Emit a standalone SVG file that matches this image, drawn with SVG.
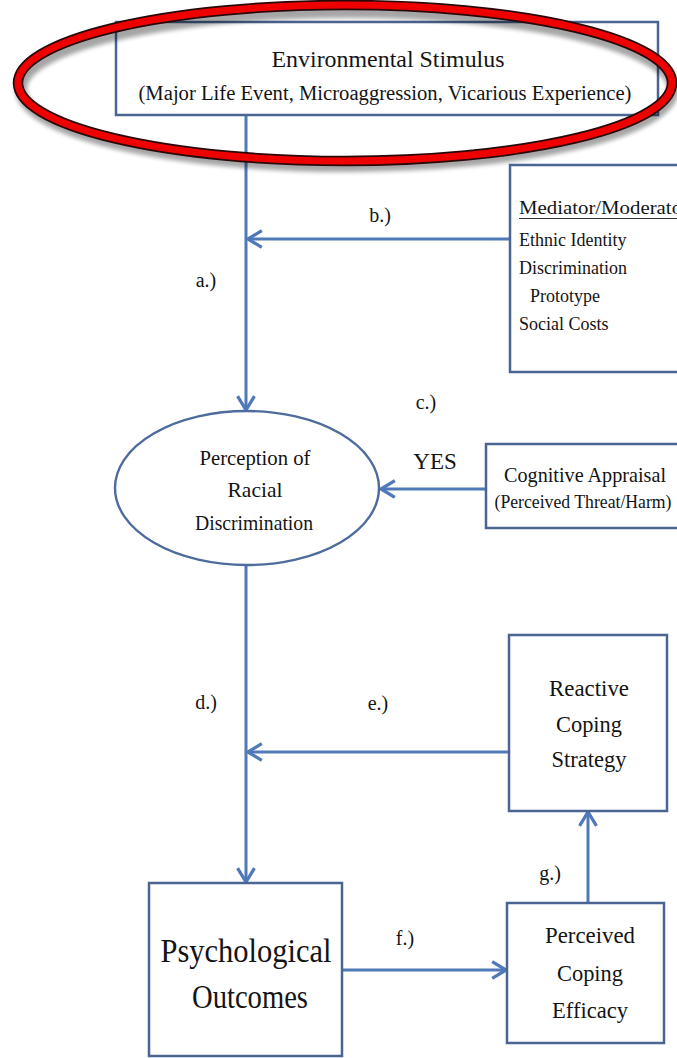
<svg xmlns="http://www.w3.org/2000/svg" width="677" height="1058" viewBox="0 0 677 1058" font-family="'Liberation Serif', 'DejaVu Serif', 'Noto Serif', serif">
  <defs>
    <style>
      .box { fill: #ffffff; stroke: #4a6591; stroke-width: 2.5; }
      .oval { fill: #ffffff; stroke: #4d6c9c; stroke-width: 2.4; }
      .link { fill: none; stroke: #5079b8; stroke-width: 3; }
      .t { font-family: 'Liberation Serif', 'DejaVu Serif', 'Noto Serif', serif; fill: #141414; }
      .mid { text-anchor: middle; }
    </style>
    <marker id="open" viewBox="0 0 12 12" refX="10.5" refY="6" markerWidth="6.5" markerHeight="6.5" orient="auto" markerUnits="strokeWidth">
      <polyline points="2,0.8 10.5,6 2,11.2" fill="none" stroke="#5079b8" stroke-width="2"/>
    </marker>
    <filter id="soft" x="-10%" y="-30%" width="120%" height="160%">
      <feGaussianBlur stdDeviation="2"/>
    </filter>
  </defs>
  <rect width="677" height="1058" fill="#ffffff"/>

  <!-- connectors -->
  <g id="connectors">
    <line class="link" x1="246" y1="116" x2="246" y2="410" marker-end="url(#open)"/>
    <line class="link" x1="510" y1="239" x2="248" y2="239" marker-end="url(#open)"/>
    <line class="link" x1="486" y1="489" x2="381" y2="489" marker-end="url(#open)"/>
    <line class="link" x1="246" y1="565" x2="246" y2="882" marker-end="url(#open)"/>
    <line class="link" x1="509" y1="752" x2="248" y2="752" marker-end="url(#open)"/>
    <line class="link" x1="342" y1="970" x2="506" y2="970" marker-end="url(#open)"/>
    <line class="link" x1="588" y1="903" x2="588" y2="812" marker-end="url(#open)"/>
    <text class="t mid" x="380" y="222" font-size="20">b.)</text>
    <text class="t mid" x="206" y="287" font-size="20">a.)</text>
    <text class="t mid" x="426" y="409" font-size="20">c.)</text>
    <text class="t mid" x="435" y="469" font-size="23">YES</text>
    <text class="t mid" x="206" y="709" font-size="20">d.)</text>
    <text class="t mid" x="378" y="710" font-size="20">e.)</text>
    <text class="t mid" x="405" y="945" font-size="20">f.)</text>
    <text class="t mid" x="550" y="880" font-size="20">g.)</text>
  </g>

  <!-- environmental stimulus -->
  <g id="stimulus">
    <rect class="box" x="116" y="22" width="542" height="93"/>
    <text class="t mid" x="388" y="67" font-size="23" textLength="233" lengthAdjust="spacingAndGlyphs">Environmental Stimulus</text>
    <text class="t mid" x="385" y="100" font-size="20" textLength="493" lengthAdjust="spacingAndGlyphs">(Major Life Event, Microaggression, Vicarious Experience)</text>
  </g>

  <!-- red ring drawn around the stimulus box -->
  <g id="highlight">
    <ellipse cx="347" cy="86" rx="326" ry="77" fill="none" stroke="#000000" stroke-width="12" opacity="0.35" filter="url(#soft)" transform="translate(0 3)"/>
    <ellipse cx="345" cy="83" rx="327" ry="78" fill="none" stroke="#2a0808" stroke-width="10.5"/>
    <ellipse cx="345" cy="83" rx="327" ry="78" fill="none" stroke="#ee0000" stroke-width="7"/>
  </g>

  <!-- mediator / moderator -->
  <g id="mediator">
    <rect class="box" x="510" y="165" width="180" height="207"/>
    <text class="t" x="519" y="214" font-size="19" textLength="170" lengthAdjust="spacingAndGlyphs">Mediator/Moderator</text>
    <line x1="519" y1="218.5" x2="680" y2="218.5" stroke="#333333" stroke-width="1.2"/>
    <text class="t" x="519" y="246" font-size="18">Ethnic Identity</text>
    <text class="t" x="519" y="274" font-size="18">Discrimination</text>
    <text class="t" x="530" y="302" font-size="18">Prototype</text>
    <text class="t" x="519" y="330" font-size="18">Social Costs</text>
  </g>

  <!-- perception -->
  <g id="perception">
    <ellipse class="oval" cx="247" cy="488" rx="132" ry="77"/>
    <text class="t mid" x="255" y="465" font-size="21" textLength="111" lengthAdjust="spacingAndGlyphs">Perception of</text>
    <text class="t mid" x="255" y="497" font-size="21" textLength="55" lengthAdjust="spacingAndGlyphs">Racial</text>
    <text class="t mid" x="254" y="530" font-size="21" textLength="118" lengthAdjust="spacingAndGlyphs">Discrimination</text>
  </g>

  <!-- cognitive appraisal -->
  <g id="appraisal">
    <rect class="box" x="486" y="444" width="200" height="84"/>
    <text class="t mid" x="585" y="482" font-size="22" textLength="162" lengthAdjust="spacingAndGlyphs">Cognitive Appraisal</text>
    <text class="t mid" x="583" y="508" font-size="18" textLength="177" lengthAdjust="spacingAndGlyphs">(Perceived Threat/Harm)</text>
  </g>

  <!-- reactive coping -->
  <g id="reactive">
    <rect class="box" x="509" y="635" width="158" height="176"/>
    <text class="t mid" x="589" y="696" font-size="24" textLength="80" lengthAdjust="spacingAndGlyphs">Reactive</text>
    <text class="t mid" x="589" y="732" font-size="24" textLength="66" lengthAdjust="spacingAndGlyphs">Coping</text>
    <text class="t mid" x="589" y="767" font-size="24" textLength="75" lengthAdjust="spacingAndGlyphs">Strategy</text>
  </g>

  <!-- psychological outcomes -->
  <g id="outcomes">
    <rect class="box" x="149" y="883" width="193" height="173"/>
    <text class="t mid" x="246" y="962" font-size="33" textLength="171" lengthAdjust="spacingAndGlyphs">Psychological</text>
    <text class="t mid" x="250" y="1008" font-size="33" textLength="116" lengthAdjust="spacingAndGlyphs">Outcomes</text>
  </g>

  <!-- perceived coping efficacy -->
  <g id="efficacy">
    <rect class="box" x="507" y="903" width="157" height="140"/>
    <text class="t mid" x="590" y="943" font-size="24" textLength="90" lengthAdjust="spacingAndGlyphs">Perceived</text>
    <text class="t mid" x="590" y="981" font-size="24" textLength="66" lengthAdjust="spacingAndGlyphs">Coping</text>
    <text class="t mid" x="590" y="1018" font-size="24" textLength="76" lengthAdjust="spacingAndGlyphs">Efficacy</text>
  </g>
</svg>
